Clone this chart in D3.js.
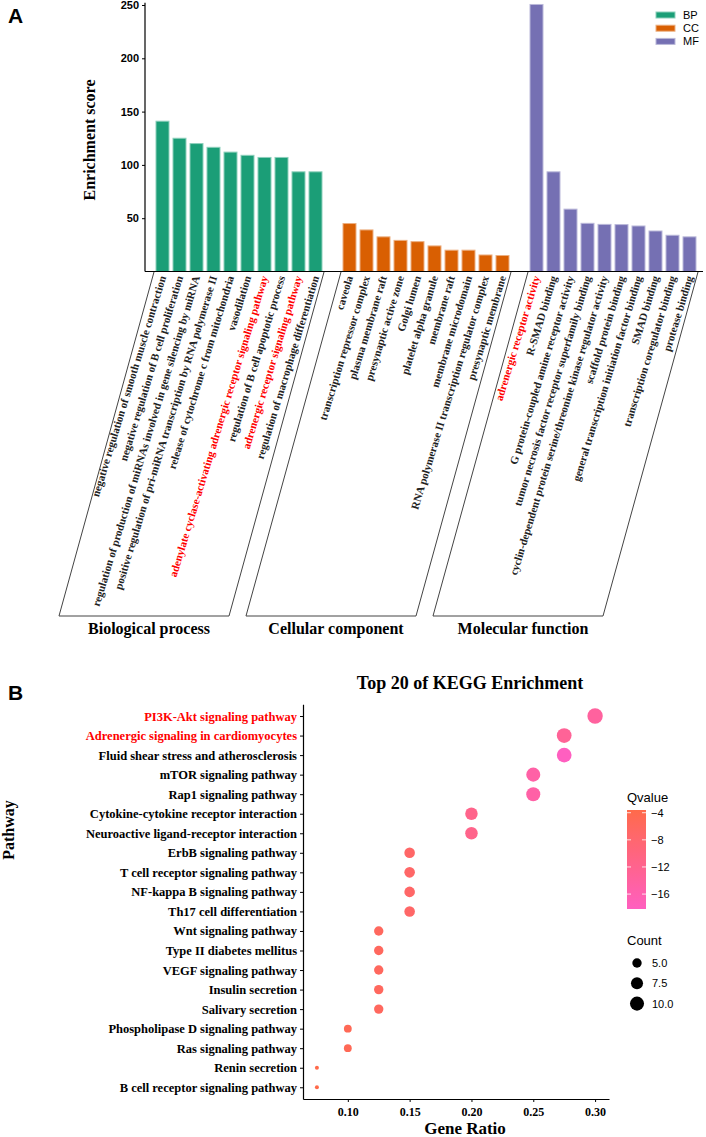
<!DOCTYPE html>
<html>
<head>
<meta charset="utf-8">
<script src="https://cdn.jsdelivr.net/npm/d3@7"></script>
<style>
  body { margin: 0; background: #fff; }
  svg { display: block; }
</style>
</head>
<body>
<div class="grafico"></div>
<script>
// ---- data panel A (GO) ----
var bpTerms = ["negative regulation of smooth muscle contraction",
  "negative regulation of B cell proliferation",
  "regulation of production of miRNAs involved in gene silencing by miRNA",
  "positive regulation of pri-miRNA transcription by RNA polymerase II",
  "release of cytochrome c from mitochondria",
  "vasodilation",
  "adenylate cyclase-activating adrenergic receptor signaling pathway",
  "regulation of B cell apoptotic process",
  "adrenergic receptor signaling pathway",
  "regulation of macrophage differentiation"];
var bpScores = [141, 125, 120, 116.5, 112, 109, 107, 107, 93.5, 93.5];

var ccTerms = ["caveola", "transcription repressor complex", "plasma membrane raft",
  "presynaptic active zone", "Golgi lumen", "platelet alpha granule", "membrane raft",
  "membrane microdomain", "RNA polymerase II transcription regulator complex",
  "presynaptic membrane"];
var ccScores = [45, 39, 32.5, 29.2, 28, 24, 20, 20, 15.5, 15];

var mfTerms = ["adrenergic receptor activity", "R-SMAD binding",
  "G protein-coupled amine receptor activity",
  "tumor necrosis factor receptor superfamily binding",
  "cyclin-dependent protein serine/threonine kinase regulator activity",
  "scaffold protein binding", "general transcription initiation factor binding",
  "SMAD binding", "transcription coregulator binding", "protease binding"];
var mfScores = [250.5, 93.5, 58.5, 45.2, 44.2, 44, 42.7, 38, 34, 32.5];

var groups = ["BP", "CC", "MF"];
var groupNames = ["Biological process", "Cellular component", "Molecular function"];
var scoreTicks = [50, 100, 150, 200, 250];
var redTermsA = ["adenylate cyclase-activating adrenergic receptor signaling pathway",
  "adrenergic receptor signaling pathway", "adrenergic receptor activity"];

// ---- data panel B (KEGG) ----
var pathways = ["PI3K-Akt signaling pathway", "Adrenergic signaling in cardiomyocytes",
  "Fluid shear stress and atherosclerosis", "mTOR signaling pathway",
  "Rap1 signaling pathway", "Cytokine-cytokine receptor interaction",
  "Neuroactive ligand-receptor interaction", "ErbB signaling pathway",
  "T cell receptor signaling pathway", "NF-kappa B signaling pathway",
  "Th17 cell differentiation", "Wnt signaling pathway", "Type II diabetes mellitus",
  "VEGF signaling pathway", "Insulin secretion", "Salivary secretion",
  "Phospholipase D signaling pathway", "Ras signaling pathway", "Renin secretion",
  "B cell receptor signaling pathway"];
var geneRatio = [0.30, 0.275, 0.275, 0.25, 0.25, 0.20, 0.20, 0.15, 0.15, 0.15,
  0.15, 0.125, 0.125, 0.125, 0.125, 0.125, 0.10, 0.10, 0.075, 0.075];
var geneCount = [12, 11, 11, 10, 10, 8, 8, 6, 6, 6, 6, 5, 5, 5, 5, 5, 4, 4, 3, 3];
var qvalue = [-14, -13, -18.2, -15, -15, -11.5, -11.5, -7, -7, -7, -7, -6, -6, -6,
  -6, -6, -5, -5, -3.6, -3.6];
var redPathways = ["PI3K-Akt signaling pathway", "Adrenergic signaling in cardiomyocytes"];
var ratioTicks = [0.10, 0.15, 0.20, 0.25, 0.30];
var qTicks = [-4, -8, -12, -16];
var countTicks = [5.0, 7.5, 10.0];

var colori = { BP: "#1b9e77", CC: "#d95f02", MF: "#7570b3" };
var serif = "'Liberation Serif', 'Times New Roman', serif";
var sans = "'Liberation Sans', Arial, sans-serif";

var w = 706, h = 1137;
var svg = d3.select(".grafico").append("svg")
  .attr("width", w)
  .attr("height", h);

// ================= PANEL A =================
var righe = [];
var keys = [];
[bpTerms, ccTerms, mfTerms].forEach(function (terms, g) {
  var scores = [bpScores, ccScores, mfScores][g];
  terms.forEach(function (t, i) {
    righe.push({ key: groups[g] + i, term: t, score: scores[i], group: groups[g] });
    keys.push(groups[g] + i);
  });
  if (g < 2) keys.push("gap" + g);
});

var xA = d3.scaleBand().domain(keys).range([154, 698]).paddingInner(0.235).paddingOuter(0.1175);
var yA = d3.scaleLinear().domain([0, 250]).range([271.5, 5]);

svg.append("text").attr("x", 8).attr("y", 23)
  .style("font-family", sans).style("font-weight", "bold").style("font-size", "21px")
  .text("A");

// bars
svg.append("g").selectAll("rect").data(righe).enter().append("rect")
  .attr("x", function (d) { return xA(d.key); })
  .attr("y", function (d) { return yA(d.score); })
  .attr("width", xA.bandwidth())
  .attr("height", function (d) { return yA(0) - yA(d.score); })
  .attr("fill", function (d) { return colori[d.group]; })
  .attr("stroke", function (d) { return d3.interpolateRgb(colori[d.group], "#fff")(0.5); })
  .attr("stroke-width", 1);

// y axis
var axisY = svg.append("g").attr("transform", "translate(145,0)")
  .call(d3.axisLeft(yA).tickValues(scoreTicks).tickSize(3).tickSizeOuter(0));
axisY.select(".domain").attr("d", "M0," + yA(0) + "V" + yA(252));
axisY.selectAll("text").style("font-family", sans).style("font-weight", "bold")
  .style("font-size", "11px").attr("fill", "#000");

// x baseline
svg.append("line").attr("x1", 145).attr("x2", 703)
  .attr("y1", yA(0)).attr("y2", yA(0)).attr("stroke", "#000").attr("stroke-width", 1);

svg.append("text")
  .attr("transform", "translate(95,140) rotate(-90)")
  .attr("text-anchor", "middle")
  .style("font-family", serif).style("font-weight", "bold").style("font-size", "16px")
  .text("Enrichment score");

// rotated term labels
svg.append("g").selectAll("text").data(righe).enter().append("text")
  .attr("transform", function (d) {
    return "translate(" + (xA(d.key) + xA.bandwidth() / 2) + ",276) rotate(-73)";
  })
  .attr("text-anchor", "end")
  .attr("dy", "0.35em")
  .style("font-family", serif).style("font-weight", "bold").style("font-size", "11px")
  .attr("fill", function (d) { return redTermsA.indexOf(d.term) >= 0 ? "#ff0000" : "#222"; })
  .text(function (d) { return d.term; });

// parallelogram boxes
var shift = 95, topY = 272, botY = 616;
groups.forEach(function (g, i) {
  var x0 = xA(g + 0) - 2;
  var x1 = xA(g + 9) + xA.bandwidth() + 2;
  svg.append("path")
    .attr("d", "M" + x0 + "," + topY + "L" + (x0 - shift) + "," + botY +
      "L" + (x1 - shift) + "," + botY + "L" + x1 + "," + topY)
    .attr("fill", "none").attr("stroke", "#444").attr("stroke-width", 1);
  svg.append("text")
    .attr("x", (x0 + x1) / 2 - shift + 5).attr("y", 634)
    .attr("text-anchor", "middle")
    .style("font-family", serif).style("font-weight", "bold").style("font-size", "16px")
    .text(groupNames[i]);
});

// legend
groups.forEach(function (g, i) {
  svg.append("rect").attr("x", 656).attr("y", 12 + i * 13.2).attr("width", 19).attr("height", 6)
    .attr("fill", colori[g])
    .attr("stroke", d3.interpolateRgb(colori[g], "#fff")(0.5)).attr("stroke-width", 1);
  svg.append("text").attr("x", 683).attr("y", 19 + i * 13.2)
    .style("font-family", sans).style("font-size", "11px").text(g);
});

// ================= PANEL B =================
var puntini = pathways.map(function (p, i) {
  return { path: p, ratio: geneRatio[i], count: geneCount[i], q: qvalue[i] };
});

var xB = d3.scaleLinear().domain([0.06375, 0.31125]).range([303, 609]);
var yB = d3.scalePoint().domain(pathways).range([704.3, 1099]).padding(0.6);
var colQ = d3.scaleLinear().domain([-18.2, -3.6]).range(["#ff5fc0", "#ff6a4a"])
  .interpolate(d3.interpolateLab);
var sizeN = d3.scaleLinear().domain([0, 1]).range([2, 7.7]);
function raggio(c) { return sizeN(Math.sqrt((c - 3) / 9)); }

svg.append("text").attr("x", 8).attr("y", 700)
  .style("font-family", sans).style("font-weight", "bold").style("font-size", "21px")
  .text("B");

svg.append("text").attr("x", 470).attr("y", 689).attr("text-anchor", "middle")
  .style("font-family", serif).style("font-weight", "bold").style("font-size", "18px")
  .text("Top 20 of KEGG Enrichment");

var axB = svg.append("g").attr("transform", "translate(0,1099)")
  .call(d3.axisBottom(xB).tickValues(ratioTicks).tickFormat(d3.format(".2f"))
    .tickSize(3).tickSizeOuter(0));
axB.selectAll("text").style("font-family", serif).style("font-weight", "bold")
  .style("font-size", "12px").attr("fill", "#000").attr("dy", "0.95em");

var ayB = svg.append("g").attr("transform", "translate(303,0)")
  .call(d3.axisLeft(yB).tickSize(3).tickSizeOuter(0));
ayB.selectAll("text").style("font-family", serif).style("font-weight", "bold")
  .style("font-size", "12.5px")
  .attr("fill", function (d) { return redPathways.indexOf(d) >= 0 ? "#ff0000" : "#000"; });
svg.selectAll(".domain").attr("stroke-width", 1.2);

svg.append("g").selectAll("circle").data(puntini).enter().append("circle")
  .attr("cx", function (d) { return xB(d.ratio); })
  .attr("cy", function (d) { return yB(d.path); })
  .attr("r", function (d) { return raggio(d.count); })
  .attr("fill", function (d) { return colQ(d.q); });

svg.append("text").attr("x", 465).attr("y", 1134).attr("text-anchor", "middle")
  .style("font-family", serif).style("font-weight", "bold").style("font-size", "17px")
  .text("Gene Ratio");

svg.append("text")
  .attr("transform", "translate(14,830) rotate(-90)")
  .attr("text-anchor", "middle")
  .style("font-family", serif).style("font-weight", "bold").style("font-size", "16px")
  .text("Pathway");

// Qvalue colour bar
var barY = d3.scaleLinear().domain([-18.2, -3.6]).range([909, 810]);
var grad = svg.append("defs").append("linearGradient").attr("id", "qgrad")
  .attr("x1", 0).attr("y1", 1).attr("x2", 0).attr("y2", 0);
d3.range(0, 1.01, 0.1).forEach(function (t) {
  grad.append("stop").attr("offset", t)
    .attr("stop-color", colQ(-18.2 + t * 14.6));
});
svg.append("text").attr("x", 627).attr("y", 802)
  .style("font-family", sans).style("font-size", "13px").text("Qvalue");
svg.append("rect").attr("x", 627).attr("y", 810).attr("width", 19).attr("height", 99)
  .attr("fill", "url(#qgrad)");
qTicks.forEach(function (q) {
  var yy = barY(q);
  svg.append("line").attr("x1", 627).attr("x2", 631).attr("y1", yy).attr("y2", yy)
    .attr("stroke", "#fff").attr("stroke-width", 0.8);
  svg.append("line").attr("x1", 642).attr("x2", 646).attr("y1", yy).attr("y2", yy)
    .attr("stroke", "#fff").attr("stroke-width", 0.8);
  svg.append("text").attr("x", 651).attr("y", yy + 4)
    .style("font-family", sans).style("font-size", "11px")
    .text(String(q).replace("-", "\u2212"));
});

// Count legend
svg.append("text").attr("x", 627).attr("y", 945)
  .style("font-family", sans).style("font-size", "13px").text("Count");
countTicks.forEach(function (c, i) {
  var yy = 963 + i * 20.3;
  svg.append("circle").attr("cx", 637).attr("cy", yy).attr("r", raggio(c)).attr("fill", "#000");
  svg.append("text").attr("x", 652).attr("y", yy + 4)
    .style("font-family", sans).style("font-size", "11px").text(d3.format(".1f")(c));
});
</script>
</body>
</html>
